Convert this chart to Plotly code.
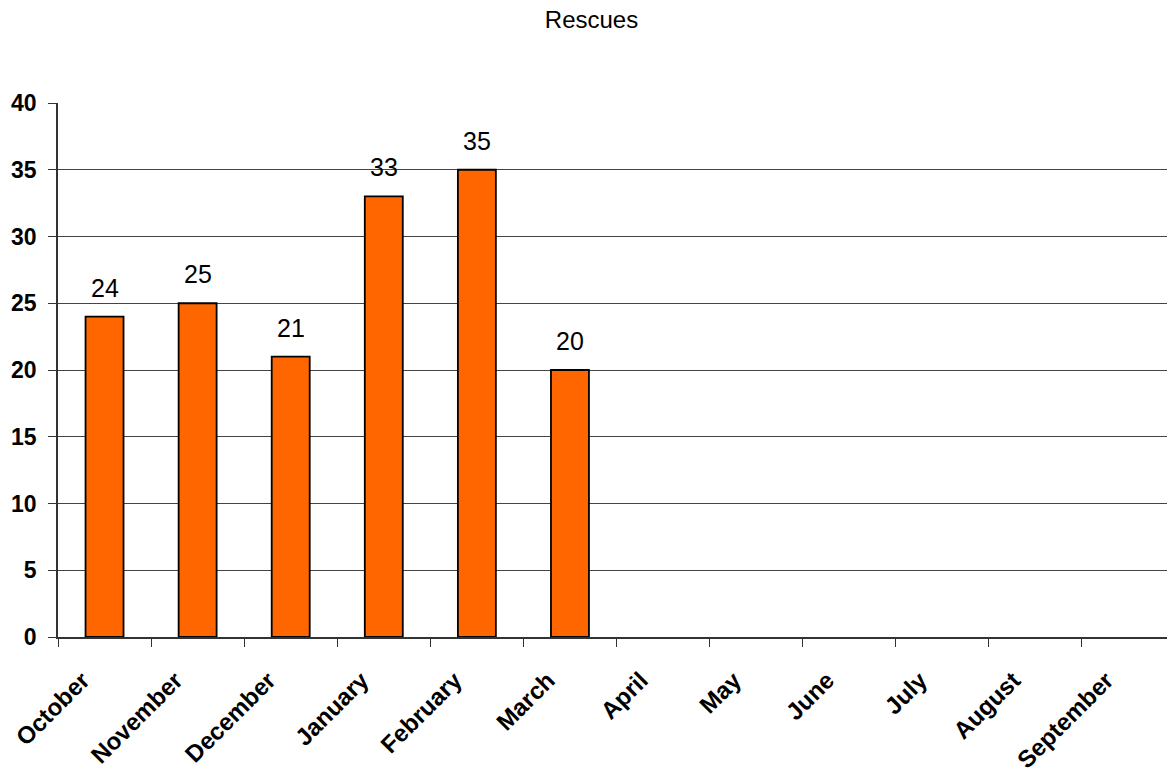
import plotly.graph_objects as go

months = ["October", "November", "December", "January", "February", "March",
          "April", "May", "June", "July", "August", "September"]
rescues = [24, 25, 21, 33, 35, 20, None, None, None, None, None, None]
y_ticks = [0, 5, 10, 15, 20, 25, 30, 35, 40]

FONT = "Liberation Sans, Arial"

fig = go.Figure(go.Bar(
    x=months, y=rescues,
    marker=dict(color="#FF6600", line=dict(color="black", width=1.8)),
))

for m, v in zip(months, rescues):
    if v is not None:
        fig.add_annotation(x=m, y=v, text=str(v), showarrow=False,
                           yanchor="bottom", yshift=13,
                           font=dict(family=FONT, size=25, color="black"))

fig.update_layout(
    width=1167, height=770,
    paper_bgcolor="white", plot_bgcolor="white",
    margin=dict(l=50, r=0, t=95, b=141),
    bargap=0.592,
    showlegend=False,
    title=dict(text="Rescues", x=0.5, xanchor="center", y=1 - 3 / 770, yanchor="top",
               font=dict(family=FONT, size=24, color="black")),
    font=dict(family=FONT, color="black"),
)
fig.update_xaxes(
    type="category", tickson="boundaries", ticks="outside", ticklen=8,
    tickcolor="#333", tickangle=-45, showline=True, linecolor="#333", linewidth=1.5,
    showgrid=False, tickfont=dict(family=FONT, size=24, color="black"),
    ticklabelstandoff=18, ticklabelshift=-22,
    tickvals=months, ticktext=["<b>%s</b>" % m for m in months],
)
fig.update_yaxes(
    range=[0, 40], tickvals=y_ticks, ticktext=["<b>%d</b>" % v for v in y_ticks],
    ticks="outside", ticklen=8, tickcolor="#333",
    showline=True, linecolor="#333", linewidth=1.5,
    showgrid=True, gridcolor="#444", gridwidth=1.2, zeroline=False,
    tickfont=dict(family=FONT, size=23, color="black"),
    ticklabelstandoff=7,
)

fig.write_html("out.html")
